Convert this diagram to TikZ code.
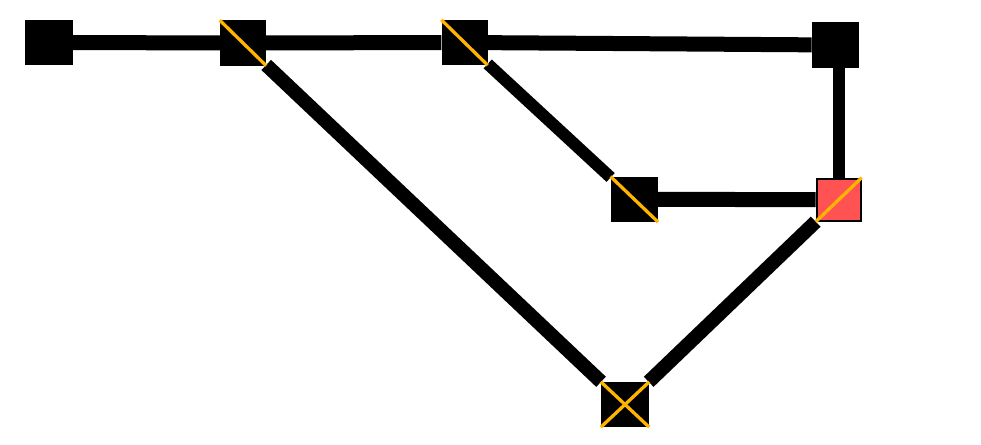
\documentclass[tikz,border=0pt]{standalone}
\usepackage{tikz}
\usetikzlibrary{calc,positioning}
\definecolor{SwOrange}{RGB}{255,180,0}
\definecolor{SwRed}{RGB}{255,82,82}
\pgfdeclarelayer{bg}\pgfsetlayers{bg,main}
\begin{document}
\begin{tikzpicture}[x=1pt,y=-1pt,sw/.style={fill=black,inner sep=0pt,minimum width=46pt,minimum height=45pt},
  wire/.style={line width=12pt,line cap=butt},cutline/.style={draw=SwOrange,line width=3.3pt}]
\useasboundingbox (0,0) rectangle (981,444);
\node[sw,minimum width=48pt] (s1) at (49,42.5) {};\node[sw] (s2) at (243,43) {};\node[sw] (s3) at (464.5,42.5) {};
\node[sw,minimum width=47pt] (s4) at (835.3,45) {};\node[sw,minimum width=47pt] (s5) at (634.3,199.3) {};
\node[sw,fill=SwRed,draw=black,line width=2pt,minimum width=44pt,minimum height=42pt] (s6) at (838.7,199.7) {};
\node[sw,minimum width=48pt] (s7) at (625,404.5) {};
\begin{pgfonlayer}{bg}
\draw[wire,line width=15pt] (s1)--(s2);\draw[wire,line width=15pt] (s2)--(s3);\draw[wire,line width=15pt] (s3)--(s4);
\draw[wire,line width=15pt] (s5)--(s6);\draw[wire] (s6.north |- s4.south)--(s6.north);
\draw[wire,line width=14pt] (s2)--(s7);\draw[wire] (s3)--(s5);\draw[wire,line width=14pt] (s6)--(s7);
\end{pgfonlayer}
\draw[cutline] (s2.north west)--(s2.south east);\draw[cutline] (s3.north west)--(s3.south east);
\draw[cutline] (s5.north west)--(s5.south east);\draw[cutline] (s6.south west)--(s6.north east);
\draw[cutline] (s7.north west)--(s7.south east);\draw[cutline] (s7.south west)--(s7.north east);
\end{tikzpicture}
\end{document}
